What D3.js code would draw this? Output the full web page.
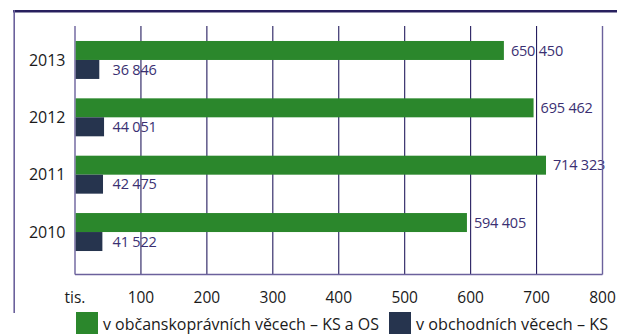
<!DOCTYPE html>
<html><head><meta charset="utf-8">
<script src="https://cdn.jsdelivr.net/npm/d3@7/dist/d3.min.js"></script>
<style>
html,body{margin:0;padding:0;background:#fff;}
text{font-family:"Open Sans",sans-serif;}
</style></head>
<body><svg id="c" width="617" height="334"></svg>
<script>
const years = ["2013","2012","2011","2010"];
const civil = [650450, 695462, 714323, 594405];
const commercial = [36846, 44051, 42475, 41522];
const tickValues = [0,100,200,300,400,500,600,700,800];
const tickLabels = ["tis.","100","200","300","400","500","600","700","800"];
const legendLabels = ["v občanskoprávních věcech – KS a OS","v obchodních věcech – KS"];
const colors = ["#2b872c","#26344e"];

const svg = d3.select("#c");
const x = d3.scaleLinear().domain([0,800]).range([75,602.5]);
const y = d3.scaleBand().domain(years).range([24,268]).paddingInner(0.338).paddingOuter(0.296);
const plotTop = 26, plotBottom = 274.5;

// frame
svg.append("line").attr("x1",13).attr("x2",617).attr("y1",11.3).attr("y2",11.3)
  .attr("stroke","#28205e").attr("stroke-width",2.6);
svg.append("line").attr("x1",14.2).attr("x2",14.2).attr("y1",10).attr("y2",313)
  .attr("stroke","#6b619c").attr("stroke-width",1.6);

// value labels (under gridlines)
const lab = svg.append("g").attr("fill","#3a2f72").style("font-size","14.5px").style("letter-spacing","-0.2px");
const fmt = v => d3.format(",")(v).replace(/,/g," ");
years.forEach((yr,i)=>{
  const bw = y.bandwidth()/2;
  lab.append("text").attr("x",x(civil[i]/1000)+7).attr("y",y(yr)+bw/2).attr("dy","0.36em").text(fmt(civil[i]));
  lab.append("text").attr("x",x(57)).attr("y",y(yr)+bw*1.5).attr("dy","0.36em").text(fmt(commercial[i]));
});

// gridlines
tickValues.forEach(t=>{
  const outer = (t===0||t===800);
  svg.append("line").attr("x1",x(t)).attr("x2",x(t)).attr("y1",plotTop).attr("y2",plotBottom)
    .attr("stroke", outer?"#6b619c":"#241c5e").attr("stroke-width", outer?1.4:1.1);
});
svg.append("line").attr("x1",x(0)).attr("x2",x(800)).attr("y1",plotBottom).attr("y2",plotBottom)
  .attr("stroke","#6b619c").attr("stroke-width",1.4);

// bars
years.forEach((yr,i)=>{
  const bw = y.bandwidth()/2;
  svg.append("rect").attr("x",x(0)+0.7).attr("y",y(yr)).attr("width",x(civil[i]/1000)-x(0)-0.7).attr("height",bw).attr("fill",colors[0]);
  svg.append("rect").attr("x",x(0)+0.7).attr("y",y(yr)+bw).attr("width",x(commercial[i]/1000)-x(0)-0.7).attr("height",bw).attr("fill",colors[1]);
});

// year labels
const yl = svg.append("g").attr("fill","#1a1a1a").style("font-size","16px");
years.forEach(yr=>{
  yl.append("text").attr("x",65.5).attr("y",y(yr)+y.bandwidth()/2).attr("dy","0.36em").attr("text-anchor","end").text(yr);
});

// x tick labels
const xl = svg.append("g").attr("fill","#1a1a1a").style("font-size","15.5px");
tickValues.forEach((t,i)=>{
  xl.append("text").attr("x",x(t)).attr("y",302.5).attr("text-anchor","middle").text(tickLabels[i]);
});

// legend
const lg = svg.append("g").style("font-size","16px").attr("fill","#1a1a1a");
const lx = [76, 389];
const lw = [276, 192];
legendLabels.forEach((l,i)=>{
  lg.append("rect").attr("x",lx[i]).attr("y",312).attr("width",22).attr("height",22).attr("fill",colors[i]);
  lg.append("text").attr("x",lx[i]+27).attr("y",329.5)
    .attr("textLength",lw[i]).attr("lengthAdjust","spacingAndGlyphs").text(l);
});
</script></body></html>
